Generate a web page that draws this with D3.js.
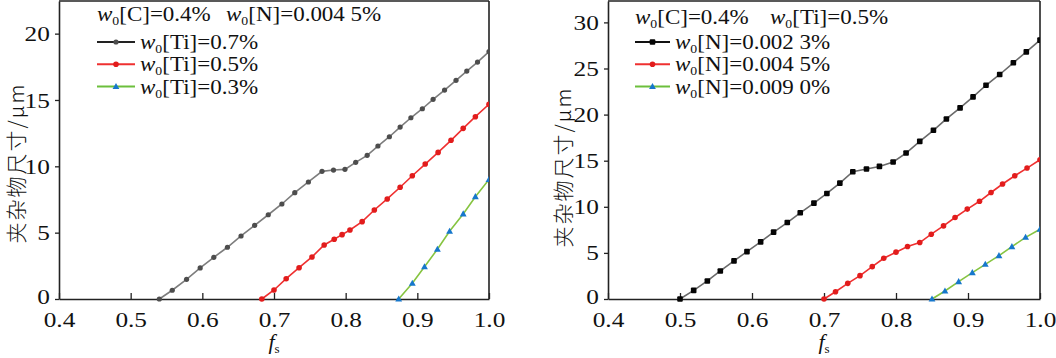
<!DOCTYPE html>
<html><head><meta charset="utf-8">
<script src="https://cdn.jsdelivr.net/npm/d3@7"></script>
<style>
html,body{margin:0;padding:0;background:#fff;}
svg text{font-family:"Liberation Serif","Times New Roman",serif;fill:#111;}
</style></head>
<body>
<svg id="chart" width="1056" height="358"></svg>
<script>
// ---------- data ----------
const xTicks = [0.4, 0.5, 0.6, 0.7, 0.8, 0.9, 1.0];
const leftYTicks = [0, 5, 10, 15, 20];
const rightYTicks = [0, 5, 10, 15, 20, 25, 30];

// left panel: w0[C]=0.4%, w0[N]=0.0045%
const leftFsTi07 = [0.540,0.558,0.578,0.597,0.616,0.635,0.654,0.673,0.692,0.711,0.729,0.748,0.767,0.783,0.799,0.814,0.830,0.845,0.861,0.876,0.891,0.907,0.922,0.938,0.954,0.969,0.984,1.000];
const leftValTi07 = [0,0.66,1.48,2.34,3.14,3.90,4.75,5.55,6.35,7.16,8.01,8.82,9.62,9.72,9.77,10.30,10.83,11.53,12.23,12.96,13.66,14.34,15.05,15.75,16.48,17.18,17.86,18.65];
const leftFsTi05 = [0.683,0.700,0.717,0.735,0.753,0.770,0.784,0.795,0.806,0.823,0.840,0.858,0.876,0.893,0.911,0.929,0.947,0.964,0.981,1.000];
const leftValTi05 = [0,0.68,1.53,2.36,3.17,4.07,4.50,4.85,5.20,5.83,6.71,7.54,8.42,9.29,10.17,11.05,11.96,12.86,13.74,14.68];
const leftFsTi03 = [0.874,0.893,0.910,0.928,0.945,0.964,0.981,1.000];
const leftValTi03 = [0,1.18,2.43,3.75,5.10,6.41,7.71,9.0];

// right panel: w0[C]=0.4%, w0[Ti]=0.5%
const rightFsN0023 = [0.500,0.519,0.538,0.556,0.575,0.593,0.612,0.630,0.649,0.667,0.686,0.704,0.722,0.740,0.759,0.777,0.796,0.814,0.833,0.852,0.870,0.889,0.907,0.925,0.944,0.963,0.981,1.000];
const rightValN0023 = [0,0.94,1.96,3.04,4.13,5.14,6.20,7.25,8.29,9.35,10.40,11.45,12.57,13.80,14.10,14.38,14.86,15.83,17.10,18.30,19.53,20.73,21.92,23.18,24.35,25.62,26.80,28.08];
const rightFsN0045 = [0.700,0.716,0.733,0.750,0.767,0.783,0.800,0.816,0.833,0.849,0.866,0.882,0.899,0.916,0.932,0.948,0.965,0.982,1.000];
const rightValN0045 = [0,0.79,1.70,2.53,3.51,4.42,5.08,5.69,6.12,7.03,7.93,8.84,9.75,10.60,11.55,12.47,13.37,14.20,15.10];
const rightFsN0090 = [0.850,0.868,0.887,0.906,0.924,0.943,0.961,0.980,1.000];
const rightValN0090 = [0,0.87,1.88,2.86,3.76,4.70,5.68,6.69,7.56];

const leftHeader = [["C","0.4%"],["N","0.004 5%"]];
const rightHeader = [["C","0.4%"],["Ti","0.5%"]];
const leftLegend = [["Ti","0.7%"],["Ti","0.5%"],["Ti","0.3%"]];
const rightLegend = [["N","0.002 3%"],["N","0.004 5%"],["N","0.009 0%"]];
const yTitle = "夹杂物尺寸/μm";

// ---------- styles ----------
const styles = [
  {line:"#7d7d7d", legLine:"#222", mark:"#4d4d4d", shape:"circle", r:2.6},
  {line:"#ef3030", legLine:"#ef3030", mark:"#e21c1c", shape:"circle", r:2.8},
  {line:"#86c440", legLine:"#6cbf3c", mark:"#1677cc", shape:"triangle", r:3.6}
];
const stylesR = [
  {line:"#6a6a6a", legLine:"#111", mark:"#050505", shape:"square", r:2.8},
  styles[1], styles[2]
];

const svg = d3.select("#chart");
const SX = 1.15;

function sText(g, x, y, anchor, size){
  return g.append("text").attr("transform",`translate(${x},${y}) scale(${SX},1)`)
    .attr("text-anchor",anchor).style("font-size",size+"px");
}

function panel(cfg){
  const x = d3.scaleLinear().domain([0.4,1.0]).range([cfg.x0,cfg.x1]);
  const y = d3.scaleLinear().domain([0,cfg.ymax]).range([cfg.yb,cfg.yt]);
  const g = svg.append("g");
  const cid = "clip"+cfg.id;
  svg.append("clipPath").attr("id",cid).append("rect")
    .attr("x",cfg.x0).attr("y",cfg.yt).attr("width",cfg.x1-cfg.x0).attr("height",cfg.yb-cfg.yt+4);

  // x axis (ticks inward)
  const xa = g.append("g").attr("transform",`translate(0,${cfg.yb})`)
    .call(d3.axisBottom(x).tickValues(xTicks).tickSizeInner(-6).tickSizeOuter(0).tickPadding(12).tickFormat(d3.format(".1f")));
  xa.select(".domain").attr("stroke","#222").attr("stroke-width",1.6);
  xa.selectAll(".tick line").attr("stroke","#222").attr("stroke-width",1.3);
  xa.selectAll(".tick text").attr("transform",`scale(${SX},1)`).style("font-size","22px")
    .style("font-family","'Liberation Serif',serif").attr("fill","#222");

  // y axis (ticks outward)
  const ya = g.append("g").attr("transform",`translate(${cfg.x0},0)`)
    .call(d3.axisLeft(y).tickValues(cfg.yticks).tickSizeInner(4).tickSizeOuter(0).tickPadding(4).tickFormat(d3.format("d")));
  ya.select(".domain").attr("stroke","#222").attr("stroke-width",1.6);
  ya.selectAll(".tick line").attr("stroke","#222").attr("stroke-width",1.3);
  ya.selectAll(".tick text").attr("transform",d=> d===0 ? `translate(0,-3) scale(${SX},1)` : `scale(${SX},1)`)
    .style("font-size","22px")
    .style("font-family","'Liberation Serif',serif").attr("fill","#222");

  // frame top/right
  g.append("line").attr("x1",cfg.x0).attr("x2",cfg.x1).attr("y1",cfg.yt).attr("y2",cfg.yt).attr("stroke","#222").attr("stroke-width",1.6);
  g.append("line").attr("x1",cfg.x1).attr("x2",cfg.x1).attr("y1",cfg.yt).attr("y2",cfg.yb).attr("stroke","#222").attr("stroke-width",1.6);

  // series
  const plot = g.append("g").attr("clip-path",`url(#${cid})`);
  const line = d3.line().x(d=>x(d[0])).y(d=>y(d[1]));
  cfg.series.forEach((s,i)=>{
    const st = cfg.styles[i];
    const pts = s.f.map((f,j)=>[f,s.v[j]]);
    plot.append("path").datum(pts).attr("d",line).attr("fill","none").attr("stroke",st.line).attr("stroke-width",1.6);
    pts.forEach(p=>drawMarker(plot, x(p[0]), y(p[1]), st));
  });

  // axis title f_s
  const t = g.append("text").attr("transform",`translate(${(cfg.x0+cfg.x1)/2},${cfg.yb+50})`)
    .attr("text-anchor","middle").style("font-size","22px");
  t.append("tspan").style("font-style","italic").text("f");
  t.append("tspan").attr("dy",4).style("font-size","13px").text("s");

  // y title
  g.append("text").attr("transform",`translate(${cfg.ytx},${cfg.yty}) rotate(-90)`)
    .attr("text-anchor","middle").attr("dominant-baseline","central").style("font-size","21px")
    .style("letter-spacing","2px")
    .style("font-family","'Noto Sans CJK SC',sans-serif").style("font-weight","300").attr("fill","#333").text(yTitle);

  // header
  cfg.header.forEach((e,k)=>{
    const h = sText(g, cfg.hx[k], cfg.ly0, "start", 20);
    wTerm(h, e[0], e[1]);
  });
  // legend rows
  cfg.legend.forEach((e,k)=>{
    const st = cfg.styles[k];
    const yy = cfg.ly1 + k*cfg.ldy;
    g.append("line").attr("x1",cfg.lx).attr("x2",cfg.lx+cfg.llen).attr("y1",yy).attr("y2",yy)
      .attr("stroke",st.legLine).attr("stroke-width",2);
    drawMarker(g, cfg.lx+cfg.llen/2, yy, st);
    const tt = sText(g, cfg.lx+cfg.llen+5, yy+7, "start", 20);
    wTerm(tt, e[0], e[1]);
  });
}

function wTerm(t, el, val){
  t.append("tspan").style("font-style","italic").text("w");
  t.append("tspan").attr("dy",4).style("font-size","12px").text("0");
  t.append("tspan").attr("dy",-4).text(`[${el}]=${val}`);
}

function drawMarker(g, cx, cy, st){
  if(st.shape==="circle"){
    g.append("circle").attr("cx",cx).attr("cy",cy).attr("r",st.r).attr("fill",st.mark);
  } else if(st.shape==="square"){
    g.append("rect").attr("x",cx-st.r).attr("y",cy-st.r).attr("width",2*st.r).attr("height",2*st.r).attr("rx",1).attr("fill",st.mark);
  } else {
    const r = st.r;
    g.append("path").attr("d",`M${cx},${cy-r}L${cx+r*0.95},${cy+r*0.7}L${cx-r*0.95},${cy+r*0.7}Z`).attr("fill",st.mark);
  }
}

panel({id:"L", x0:59, x1:489, yt:1, yb:299, ymax:22.46, yticks:leftYTicks,
  series:[{f:leftFsTi07,v:leftValTi07},{f:leftFsTi05,v:leftValTi05},{f:leftFsTi03,v:leftValTi03}],
  styles:styles, header:leftHeader, legend:leftLegend, hx:[97,226],
  lx:97, ly0:21, ly1:42, ldy:22.3, llen:38, ytx:15, yty:163});

panel({id:"R", x0:608, x1:1040, yt:1, yb:299, ymax:32.32, yticks:rightYTicks,
  series:[{f:rightFsN0023,v:rightValN0023},{f:rightFsN0045,v:rightValN0045},{f:rightFsN0090,v:rightValN0090}],
  styles:stylesR, header:rightHeader, legend:rightLegend, hx:[635,770],
  lx:635, ly0:24, ly1:42, ldy:22.3, llen:35, ytx:562, yty:167});
</script>
</body></html>
